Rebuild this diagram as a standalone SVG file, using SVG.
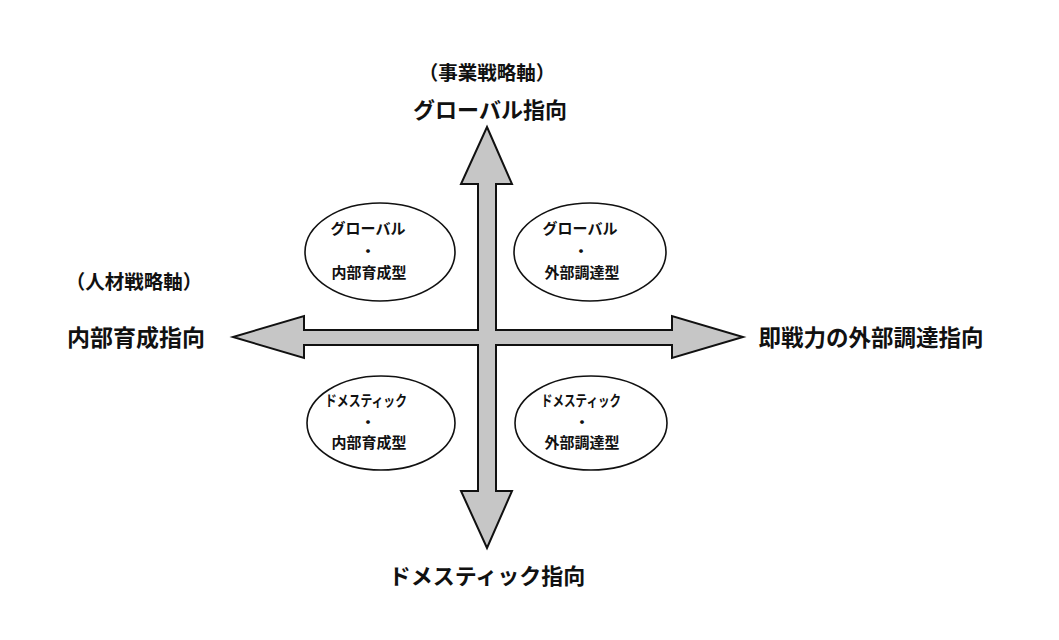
<svg xmlns="http://www.w3.org/2000/svg" width="1059" height="640" viewBox="0 0 1059 640">
<style>
text{font-family:"Noto Sans CJK JP","Noto Sans CJK SC",sans-serif;fill:#111;text-anchor:middle;font-weight:700}
.big{font-size:22px}
.axis{font-size:19.5px}
.sm{font-size:15px}
.ell{fill:#fff;stroke:#111;stroke-width:1.6}
.arrow{fill:#c6c6c6;stroke:#111;stroke-width:2;stroke-linejoin:miter}
</style>
<rect width="1059" height="640" fill="#fff"/>
<g id="connectors">
<polygon class="arrow" points="487,127 512,184 496,184 496,330 672,330 672,316 743,337 672,358 672,345 496,345 496,491 512,491 487,548 461,491 478,491 478,345 304,345 304,358 233,337 304,316 304,330 478,330 478,184 461,184"/>
</g>
<g id="label-business-axis"><text class="axis" x="487" y="80">（事業戦略軸）</text></g>
<g id="label-global"><text class="big" x="490" y="118">グローバル指向</text></g>
<g id="label-hr-axis"><text class="axis" x="134" y="289">（人材戦略軸）</text></g>
<g id="label-internal"><text class="big" x="136" y="346" style="font-size:23px">内部育成指向</text></g>
<g id="label-external"><text class="big" x="871" y="346" style="font-size:22.5px">即戦力の外部調達指向</text></g>
<g id="label-domestic"><text class="big" x="487" y="584">ドメスティック指向</text></g>
<g id="node-global-internal">
<ellipse class="ell" cx="380" cy="252" rx="75" ry="49"/>
<text class="sm" x="368" y="234">グローバル</text>
<text class="sm" x="368" y="257">・</text>
<text class="sm" x="369" y="278">内部育成型</text>
</g>
<g id="node-global-external">
<ellipse class="ell" cx="590" cy="252" rx="76" ry="49"/>
<text class="sm" x="580" y="234">グローバル</text>
<text class="sm" x="581" y="257">・</text>
<text class="sm" x="582" y="278">外部調達型</text>
</g>
<g id="node-domestic-internal">
<ellipse class="ell" cx="381" cy="423" rx="74" ry="47"/>
<text class="sm" x="366" y="406" textLength="82" lengthAdjust="spacingAndGlyphs">ドメスティック</text>
<text class="sm" x="368" y="428">・</text>
<text class="sm" x="369" y="448">内部育成型</text>
</g>
<g id="node-domestic-external">
<ellipse class="ell" cx="591" cy="423" rx="76" ry="47"/>
<text class="sm" x="581" y="406" textLength="80" lengthAdjust="spacingAndGlyphs">ドメスティック</text>
<text class="sm" x="582" y="428">・</text>
<text class="sm" x="582" y="448">外部調達型</text>
</g>
</svg>
